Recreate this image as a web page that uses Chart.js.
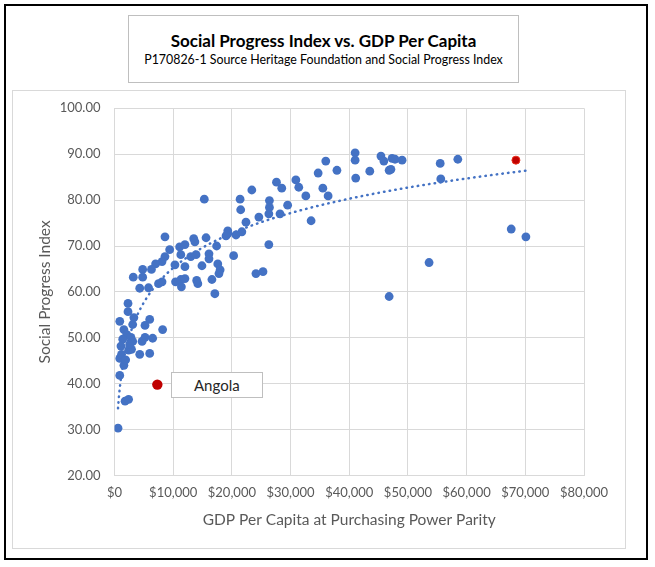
<!DOCTYPE html>
<html>
<head>
<meta charset="utf-8">
<title>Social Progress Index vs. GDP Per Capita</title>
<script src="https://cdn.jsdelivr.net/npm/chart.js@4.4.1/dist/chart.umd.min.js"></script>
<style>
  html, body { margin: 0; padding: 0; background: #fff; }
  #wrap { position: relative; width: 655px; height: 567px; font-family: Lato, "Open Sans", sans-serif; }
  #chart { position: absolute; left: 0; top: 0; }
  #frame { position: absolute; left: 4px; top: 4px; width: 640px; height: 552px; border: 2px solid #000; pointer-events: none; }
  #titleBox { position: absolute; left: 128px; top: 15px; width: 389px; height: 66px; border: 1px solid #bfbfbf; background: #fff; text-align: center; }
  #titleBox .main { position: absolute; left: 0; right: 0; top: 15px; font-size: 17px; font-weight: bold; line-height: 20px; color: #000; }
  #titleBox .sub { position: absolute; left: 0; right: 0; top: 36px; font-size: 12.4px; line-height: 16px; color: #000; }
  #angola { position: absolute; width: 90px; height: 24px; border: 1px solid #bfbfbf; background: #fff; font-size: 15px; line-height: 24px; text-align: center; color: #262626; }
</style>
</head>
<body>
<div id="wrap">
  <canvas id="chart" width="655" height="567"></canvas>
  <div id="titleBox">
    <div class="main">Social Progress Index vs. GDP Per Capita</div>
    <div class="sub">P170826-1 Source Heritage Foundation and Social Progress Index</div>
  </div>
  <div id="angola">Angola</div>
  <div id="frame"></div>
</div>
<script>
// GDP per capita (PPP, $) and Social Progress Index
const gdpPerCapita = [
  27600, 28500, 30900, 31400, 32600, 29500, 28200, 26400, 26400, 26300, 26300, 33500,
  34700, 36000, 35500, 36400, 37900, 41000, 41000, 41100, 43500, 45400, 45900, 46800,
  47100, 47300, 47800, 49000, 46800, 53600, 55500, 55600, 58500, 67600, 70100,
  15300, 8600, 9400, 11100, 12000, 11300, 8600, 8100, 7000, 4800, 6300, 3200,
  4800, 10300, 12000, 13500, 13700, 15600, 13000, 13900, 16100, 16100, 14900, 17400,
  17600, 18000, 17800, 20300, 19000, 19300, 20700, 21700, 22400, 21500, 21400, 23400,
  24600, 24100, 25300, 14200, 14000, 16600, 10400, 11300, 12000, 11400, 7500, 8100,
  4300, 5800, 17100, 19300,
  2300, 2300, 900, 3300, 3100, 6000, 5200, 8200, 1600, 2100, 2800, 5200,
  6500, 4700, 1400, 1100, 3100, 2400, 2900, 4300, 6000, 900, 1200, 1600,
  900, 1800, 2400, 600, 2600, 1900
];
const socialProgress = [
  83.9, 82.6, 84.4, 82.8, 80.9, 78.9, 77.0, 79.9, 78.4, 77.0, 70.3, 75.5,
  85.9, 88.5, 82.6, 80.9, 86.5, 90.3, 88.7, 84.8, 86.3, 89.6, 88.5, 86.5,
  86.7, 89.1, 88.9, 88.7, 59.0, 66.4, 88.0, 84.6, 88.9, 73.7, 72.0,
  80.2, 72.0, 69.2, 69.8, 70.3, 68.1, 67.7, 66.6, 66.1, 64.9, 64.9, 63.2,
  63.2, 65.9, 65.5, 71.6, 70.9, 71.8, 67.7, 68.1, 68.3, 67.2, 65.7, 70.0,
  66.1, 64.8, 64.0, 67.9, 72.2, 73.3, 72.4, 73.1, 75.2, 77.9, 80.2, 82.2,
  76.3, 64.0, 64.4, 61.8, 62.5, 62.7, 62.2, 62.7, 62.9, 61.1, 61.8, 62.2,
  60.8, 60.9, 59.6, 72.7,
  57.5, 55.7, 53.6, 54.4, 52.9, 54.0, 52.7, 51.8, 51.8, 50.7, 50.1, 50.1,
  49.9, 49.2, 49.7, 48.2, 49.2, 47.3, 47.5, 46.4, 46.6, 45.5, 46.4, 44.0,
  41.8, 36.2, 36.6, 30.3, 48.6, 45.2
];
const highlightGdp = [68400];
const highlightSpi = [88.7];
const angolaGdp = [7300];
const angolaSpi = [39.8];

const xTicks = [0, 10000, 20000, 30000, 40000, 50000, 60000, 70000, 80000];
const yTicks = [20, 30, 40, 50, 60, 70, 80, 90, 100];

const FONT = 'Lato, "Open Sans", sans-serif';
const toPoints = (xs, ys) => xs.map((x, i) => ({ x: x, y: ys[i] }));

// Excel style logarithmic trendline fitted to all countries
const allX = gdpPerCapita.concat(highlightGdp, angolaGdp);
const allY = socialProgress.concat(highlightSpi, angolaSpi);
function logFit(xs, ys) {
  let sx = 0, sy = 0, sxx = 0, sxy = 0;
  const n = xs.length;
  for (let i = 0; i < n; i++) {
    const lx = Math.log(xs[i]);
    sx += lx; sy += ys[i]; sxx += lx * lx; sxy += lx * ys[i];
  }
  const b = (n * sxy - sx * sy) / (n * sxx - sx * sx);
  const a = (sy - b * sx) / n;
  return { a: a, b: b };
}
const fit = logFit(allX, allY);
const xMin = Math.min(...allX), xMax = Math.max(...allX);
const trend = [];
for (let i = 0; i <= 200; i++) {
  const x = xMin * Math.pow(xMax / xMin, i / 200);
  trend.push({ x: x, y: fit.a + fit.b * Math.log(x) });
}

const chartFrame = {
  id: 'chartFrame',
  beforeDraw(chart) {
    const c = chart.ctx;
    c.save();
    c.strokeStyle = '#d9d9d9';
    c.lineWidth = 1;
    c.strokeRect(12.5, 90.5, 613, 458);
    c.restore();
  }
};

const angolaLabel = {
  id: 'angolaLabel',
  afterRender(chart) {
    const el = document.getElementById('angola');
    const px = chart.scales.x.getPixelForValue(angolaGdp[0]);
    const py = chart.scales.y.getPixelForValue(angolaSpi[0]);
    el.style.left = (px + 13.5) + 'px';
    el.style.top = (py - 12.5) + 'px';
  }
};

new Chart(document.getElementById('chart'), {
  type: 'scatter',
  data: {
    datasets: [
      {
        label: 'Countries',
        data: toPoints(gdpPerCapita, socialProgress),
        backgroundColor: '#4472C4',
        borderWidth: 0,
        pointRadius: 4.4
      },
      {
        label: 'Highlight',
        data: toPoints(highlightGdp, highlightSpi),
        backgroundColor: '#C00000',
        borderColor: '#E8301C',
        borderWidth: 1,
        pointRadius: 4
      },
      {
        label: 'Angola',
        data: toPoints(angolaGdp, angolaSpi),
        backgroundColor: '#C00000',
        borderWidth: 0,
        pointRadius: 5.2
      },
      {
        type: 'line',
        label: 'Trend',
        data: trend,
        borderColor: '#4472C4',
        borderWidth: 2.5,
        borderDash: [0.5, 5.2],
        borderCapStyle: 'round',
        pointRadius: 0,
        fill: false,
        tension: 0
      }
    ]
  },
  options: {
    responsive: false,
    animation: false,
    layout: { padding: { top: 108.3, right: 71, left: 0, bottom: 0 } },
    plugins: {
      legend: { display: false },
      tooltip: { enabled: false }
    },
    scales: {
      x: {
        type: 'linear',
        min: xTicks[0],
        max: xTicks[xTicks.length - 1],
        afterBuildTicks: s => { s.ticks = xTicks.map(v => ({ value: v })); },
        afterFit: s => { s.height = 91.5; },
        grid: { color: '#d9d9d9', drawTicks: false },
        border: { color: '#d9d9d9' },
        ticks: {
          padding: 10,
          color: '#595959',
          maxRotation: 0,
          autoSkip: false,
          font: { family: FONT, size: 13 },
          callback: v => '$' + v.toLocaleString('en-US')
        },
        title: {
          display: true,
          text: 'GDP Per Capita at Purchasing Power Parity',
          color: '#595959',
          font: { family: FONT, size: 15.5 },
          padding: { top: 0, bottom: 37.7 }
        }
      },
      y: {
        min: yTicks[0],
        max: yTicks[yTicks.length - 1],
        afterBuildTicks: s => { s.ticks = yTicks.map(v => ({ value: v })); },
        afterFit: s => { s.width = 114.5; },
        grid: { color: '#d9d9d9', drawTicks: false },
        border: { color: '#d9d9d9' },
        ticks: {
          padding: 14,
          color: '#595959',
          font: { family: FONT, size: 13 },
          callback: v => v.toFixed(2)
        },
        title: {
          display: true,
          text: 'Social Progress Index',
          color: '#595959',
          font: { family: FONT, size: 15.5 },
          padding: { top: 35.7, bottom: 0 }
        }
      }
    }
  },
  plugins: [chartFrame, angolaLabel]
});
</script>
</body>
</html>
